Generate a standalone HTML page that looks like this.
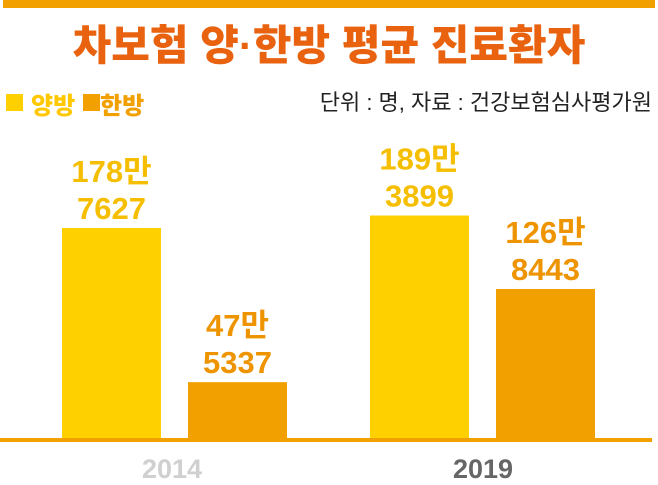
<!DOCTYPE html>
<html><head><meta charset="utf-8"><style>
body{margin:0;background:#fff;width:658px;height:480px;overflow:hidden;font-family:"Liberation Sans","Noto Sans CJK KR",sans-serif;}
svg text{font-family:"Liberation Sans","Noto Sans CJK KR",sans-serif;}
</style></head><body>
<svg width="658" height="480">
<rect x="3" y="0" width="652" height="8" fill="#F2A000"/>
<text x="329" y="60" text-anchor="middle" font-size="42" font-weight="900" fill="#E8620F">차보험 양·한방 평균 진료환자</text>
<rect x="6" y="94" width="17" height="17" fill="#FFD000"/>
<text x="31" y="114" font-size="24" font-weight="900" fill="#FFC800">양방</text>
<rect x="83" y="94" width="17" height="17" fill="#F2A000"/>
<text x="100" y="114" font-size="24" font-weight="900" fill="#F2A000">한방</text>
<text x="652" y="110" text-anchor="end" font-size="22" fill="#222">단위 : 명, 자료 : 건강보험심사평가원</text>
<g id="bars"></g>
<rect x="0" y="438" width="652" height="4" fill="#F2A000"/>
<text x="172" y="478" text-anchor="middle" font-size="27" font-weight="bold" fill="#D0D0D0">2014</text>
<text x="483" y="478" text-anchor="middle" font-size="27" font-weight="bold" fill="#666">2019</text>
</svg>
<script>
const years=["2014","2019"];
const western=[1787627,1893899];
const oriental=[475337,1268443];
const base=438, scale=210/1787627;
const y=v=>base-v*scale;
const groupX=[62,370], barW=99, gap=126;
const g=document.getElementById('bars');
const NS="http://www.w3.org/2000/svg";
function fmt(v){const m=Math.floor(v/10000), r=v%10000;return [m+"만", String(r)];}
function draw(vals,off,fill,tc,name){
 vals.forEach((v,i)=>{
  const x=groupX[i]+off, top=y(v);
  const r=document.createElementNS(NS,'rect');
  r.setAttribute('x',x);r.setAttribute('y',top);r.setAttribute('width',barW);r.setAttribute('height',base-top);r.setAttribute('fill',fill);
  
  
  g.appendChild(r);
  const lines=fmt(v);
  lines.forEach((s,k)=>{
   const t=document.createElementNS(NS,'text');
   t.setAttribute('x',x+barW/2);t.setAttribute('y',top-46+k*37);t.setAttribute('text-anchor','middle');
   t.setAttribute('font-size','31');t.setAttribute('font-weight','bold');t.setAttribute('fill',tc);
   t.textContent=s;
   
   
   g.appendChild(t);
  });
 });
}
draw(western,0,"#FFD000","#F5BE00","western");
draw(oriental,gap,"#F2A000","#EE9400","oriental");
</script>
</body></html>
